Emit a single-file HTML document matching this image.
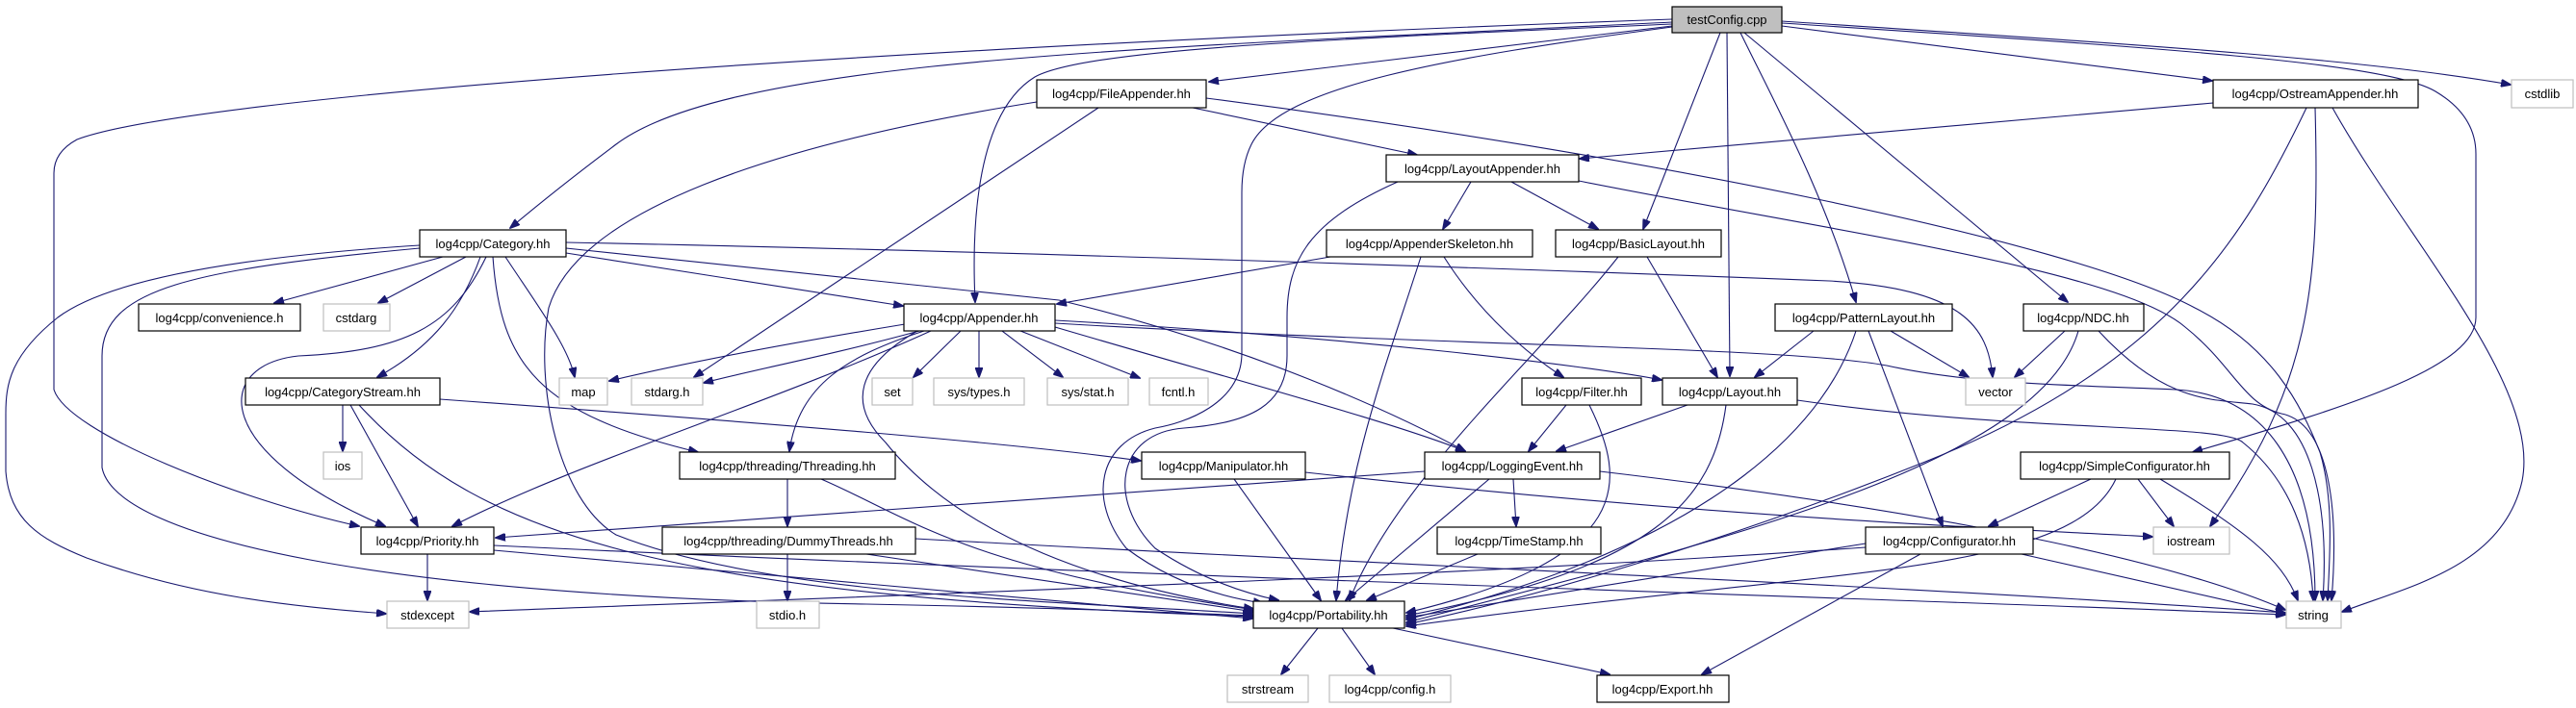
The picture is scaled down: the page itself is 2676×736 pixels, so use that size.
<!DOCTYPE html>
<html><head><meta charset="utf-8"><style>
html,body{margin:0;padding:0;background:#fff;}
svg{display:block;}
text{font-family:"Liberation Sans",sans-serif;font-size:13px;fill:#000;}
.e{fill:none;stroke:#191970;stroke-width:1.1;}
.n{fill:#fff;stroke:#000;stroke-width:1.2;}
.g{fill:#fff;stroke:#bfbfbf;stroke-width:1.2;}
</style></head><body>
<svg width="2676" height="736" viewBox="0 0 2676 736" xmlns="http://www.w3.org/2000/svg">
<defs><marker id="a" markerWidth="11" markerHeight="8" refX="10" refY="4" orient="auto" markerUnits="userSpaceOnUse"><path d="M0,0 L11,4 L0,8 z" fill="#191970" stroke="#191970"/></marker></defs>
<g class="e" marker-end="url(#a)">
<path d="M1737,23 C1200,50 760,60 640,150 Q580,195 530,237"/>
<path d="M1737,20 C900,50 200,100 80,145 Q56,158 56,180 L56,405 C70,450 250,520 373,547"/>
<path d="M1737,25 C1400,40 1130,50 1075,80 C1010,120 1010,250 1013,314"/>
<path d="M1737,27 L1256,85"/>
<path d="M1737,28 C1500,60 1330,90 1300,150 Q1290,170 1290,200 L1290,367 C1290,420 1230,440 1200,445 C1140,460 1130,520 1170,570 Q1230,615 1312,627"/>
<path d="M1787,34 L1707,238"/>
<path d="M1794,34 L1797,391"/>
<path d="M1808,34 C1840,100 1895,200 1928,314"/>
<path d="M1812,34 L2148,314"/>
<path d="M1851,27 L2298,84"/>
<path d="M1851,22 C2200,45 2450,60 2608,88"/>
<path d="M1851,24 C2250,50 2480,65 2530,95 Q2572,120 2572,160 L2572,330 C2572,380 2450,420 2278,470"/>
<path d="M1239,112 L1472,161"/>
<path d="M1253,102 C1700,160 2150,250 2280,320 C2360,360 2390,420 2410,470 C2425,520 2420,580 2418,624"/>
<path d="M1141,112 L721,392"/>
<path d="M1077,106 C800,150 600,220 570,320 C555,400 580,520 640,556 C800,620 1100,625 1301,638"/>
<path d="M1528,189 L1499,238"/>
<path d="M1570,189 L1660,238"/>
<path d="M1640,188 C1900,240 2200,280 2270,340 C2320,380 2330,420 2370,430 C2420,440 2430,530 2422,624"/>
<path d="M1452,189 C1360,230 1337,270 1337,330 L1337,370 C1337,420 1300,440 1230,445 C1160,450 1150,520 1200,570 Q1260,610 1328,624"/>
<path d="M1382,267 L1098,316"/>
<path d="M1476,267 C1440,380 1400,480 1388,624"/>
<path d="M1500,267 C1540,330 1590,370 1624,392"/>
<path d="M1711,267 L1784,392"/>
<path d="M1681,267 C1600,370 1450,500 1402,624"/>
<path d="M940,337 C800,360 700,380 633,396"/>
<path d="M955,344 C860,370 780,385 731,398"/>
<path d="M998,344 L949,392"/>
<path d="M1017,344 L1017,392"/>
<path d="M1041,344 L1104,392"/>
<path d="M1060,344 L1184,393"/>
<path d="M960,344 C880,370 830,400 820,469"/>
<path d="M967,344 C800,420 600,480 470,547"/>
<path d="M953,344 C890,380 880,420 920,460 C1000,560 1150,610 1302,633"/>
<path d="M1096,340 C1300,400 1450,440 1522,469"/>
<path d="M1096,333 C1400,350 1650,380 1726,395"/>
<path d="M1096,336 C1500,360 1850,360 1960,380 C2050,400 2150,400 2260,405 C2350,410 2405,480 2405,624"/>
<path d="M460,267 L285,315"/>
<path d="M484,267 L393,315"/>
<path d="M499,267 C480,320 450,360 392,392"/>
<path d="M525,267 C560,320 590,360 597,392"/>
<path d="M512,267 C520,380 560,430 725,470"/>
<path d="M505,267 C470,340 420,365 310,370 C220,380 220,470 400,547"/>
<path d="M436,258 C200,280 106,300 106,370 L106,486 C120,560 400,620 900,628 C1100,632 1200,636 1302,640"/>
<path d="M436,255 C200,270 100,300 60,330 C10,370 6,400 6,430 L6,490 C10,540 40,560 90,580 C200,620 300,630 401,638"/>
<path d="M588,263 L938,318"/>
<path d="M588,258 L1100,312 C1300,360 1450,430 1522,469"/>
<path d="M588,252 C1000,260 1600,280 1900,292 C2040,300 2065,340 2070,392"/>
<path d="M356,421 L356,469"/>
<path d="M364,421 L434,547"/>
<path d="M373,421 C500,560 700,620 1302,641"/>
<path d="M457,415 C800,440 1050,460 1185,479"/>
<path d="M818,498 L818,547"/>
<path d="M853,498 C950,540 1000,590 1304,634"/>
<path d="M818,576 L818,624"/>
<path d="M900,576 L1303,636"/>
<path d="M951,560 C1500,590 2000,610 2374,637"/>
<path d="M444,576 L444,624"/>
<path d="M513,572 L1301,643"/>
<path d="M513,567 C1200,600 1900,620 2374,639"/>
<path d="M1282,498 L1372,624"/>
<path d="M1356,491 C1800,540 2100,550 2236,558"/>
<path d="M1480,490 L515,559"/>
<path d="M1572,498 L1575,547"/>
<path d="M1547,498 L1398,624"/>
<path d="M1662,490 C2000,530 2250,580 2374,634"/>
<path d="M1627,421 L1588,469"/>
<path d="M1651,421 C1690,500 1700,580 1461,637"/>
<path d="M1753,421 L1617,469"/>
<path d="M1793,421 C1780,520 1720,590 1461,640"/>
<path d="M1867,416 C2100,450 2310,440 2330,460 C2380,500 2400,560 2403,624"/>
<path d="M1535,576 L1420,624"/>
<path d="M1884,344 L1823,392"/>
<path d="M1964,344 L2045,392"/>
<path d="M1928,344 C1900,430 1800,560 1461,644"/>
<path d="M1941,344 L2018,547"/>
<path d="M2145,344 L2093,392"/>
<path d="M2159,344 C2120,480 1800,560 1461,647"/>
<path d="M2180,344 C2250,420 2300,415 2340,420 C2400,430 2420,520 2413,624"/>
<path d="M2299,107 L1641,165"/>
<path d="M2396,112 C2330,250 2250,380 2000,480 C1800,560 1600,620 1461,649"/>
<path d="M2405,112 C2410,300 2400,400 2296,547"/>
<path d="M2423,112 C2500,250 2640,400 2620,500 C2600,590 2500,610 2433,636"/>
<path d="M2172,498 L2066,547"/>
<path d="M2221,498 L2258,547"/>
<path d="M2244,498 C2330,550 2370,580 2387,624"/>
<path d="M2198,498 C2150,600 1900,590 1461,651"/>
<path d="M1938,569 C1500,600 900,620 488,636"/>
<path d="M1938,565 L1461,642"/>
<path d="M2100,576 L2374,638"/>
<path d="M1995,576 L1768,701"/>
<path d="M1369,653 L1331,701"/>
<path d="M1394,653 L1428,701"/>
<path d="M1447,653 L1672,701"/>
</g>
<g>
<rect x="1737" y="7" width="114" height="27" fill="#bfbfbf" stroke="#000" stroke-width="1.2"/><text x="1794" y="25" text-anchor="middle">testConfig.cpp</text>
<rect class="n" x="436" y="239" width="152" height="28"/><text x="512" y="258" text-anchor="middle">log4cpp/Category.hh</text>
<rect class="n" x="144" y="316" width="168" height="28"/><text x="228" y="335" text-anchor="middle">log4cpp/convenience.h</text>
<rect class="g" x="336" y="316" width="69" height="28"/><text x="370" y="335" text-anchor="middle">cstdarg</text>
<rect class="n" x="1077" y="83" width="176" height="29"/><text x="1165" y="102" text-anchor="middle">log4cpp/FileAppender.hh</text>
<rect class="n" x="1440" y="161" width="200" height="28"/><text x="1540" y="180" text-anchor="middle">log4cpp/LayoutAppender.hh</text>
<rect class="n" x="1378" y="239" width="214" height="28"/><text x="1485" y="258" text-anchor="middle">log4cpp/AppenderSkeleton.hh</text>
<rect class="n" x="1616" y="239" width="172" height="28"/><text x="1702" y="258" text-anchor="middle">log4cpp/BasicLayout.hh</text>
<rect class="n" x="939" y="316" width="157" height="28"/><text x="1017" y="335" text-anchor="middle">log4cpp/Appender.hh</text>
<rect class="n" x="2299" y="83" width="213" height="29"/><text x="2405" y="102" text-anchor="middle">log4cpp/OstreamAppender.hh</text>
<rect class="g" x="2609" y="83" width="64" height="29"/><text x="2641" y="102" text-anchor="middle">cstdlib</text>
<rect class="n" x="1844" y="316" width="184" height="28"/><text x="1936" y="335" text-anchor="middle">log4cpp/PatternLayout.hh</text>
<rect class="n" x="2102" y="316" width="125" height="28"/><text x="2164" y="335" text-anchor="middle">log4cpp/NDC.hh</text>
<rect class="n" x="255" y="393" width="202" height="28"/><text x="356" y="412" text-anchor="middle">log4cpp/CategoryStream.hh</text>
<rect class="g" x="581" y="393" width="50" height="28"/><text x="606" y="412" text-anchor="middle">map</text>
<rect class="g" x="656" y="393" width="74" height="28"/><text x="693" y="412" text-anchor="middle">stdarg.h</text>
<rect class="g" x="906" y="393" width="42" height="28"/><text x="927" y="412" text-anchor="middle">set</text>
<rect class="g" x="970" y="393" width="94" height="28"/><text x="1017" y="412" text-anchor="middle">sys/types.h</text>
<rect class="g" x="1088" y="393" width="84" height="28"/><text x="1130" y="412" text-anchor="middle">sys/stat.h</text>
<rect class="g" x="1194" y="393" width="61" height="28"/><text x="1224" y="412" text-anchor="middle">fcntl.h</text>
<rect class="n" x="1581" y="393" width="124" height="28"/><text x="1643" y="412" text-anchor="middle">log4cpp/Filter.hh</text>
<rect class="n" x="1727" y="393" width="140" height="28"/><text x="1797" y="412" text-anchor="middle">log4cpp/Layout.hh</text>
<rect class="g" x="2042" y="393" width="62" height="28"/><text x="2073" y="412" text-anchor="middle">vector</text>
<rect class="g" x="336" y="470" width="40" height="28"/><text x="356" y="489" text-anchor="middle">ios</text>
<rect class="n" x="706" y="470" width="224" height="28"/><text x="818" y="489" text-anchor="middle">log4cpp/threading/Threading.hh</text>
<rect class="n" x="1186" y="470" width="170" height="28"/><text x="1271" y="489" text-anchor="middle">log4cpp/Manipulator.hh</text>
<rect class="n" x="1480" y="470" width="182" height="28"/><text x="1571" y="489" text-anchor="middle">log4cpp/LoggingEvent.hh</text>
<rect class="n" x="2099" y="470" width="217" height="28"/><text x="2207" y="489" text-anchor="middle">log4cpp/SimpleConfigurator.hh</text>
<rect class="n" x="375" y="548" width="138" height="28"/><text x="444" y="567" text-anchor="middle">log4cpp/Priority.hh</text>
<rect class="n" x="688" y="548" width="263" height="28"/><text x="819" y="567" text-anchor="middle">log4cpp/threading/DummyThreads.hh</text>
<rect class="n" x="1493" y="548" width="170" height="28"/><text x="1578" y="567" text-anchor="middle">log4cpp/TimeStamp.hh</text>
<rect class="n" x="1938" y="548" width="174" height="28"/><text x="2025" y="567" text-anchor="middle">log4cpp/Configurator.hh</text>
<rect class="g" x="2237" y="548" width="79" height="28"/><text x="2276" y="567" text-anchor="middle">iostream</text>
<rect class="g" x="402" y="625" width="85" height="28"/><text x="444" y="644" text-anchor="middle">stdexcept</text>
<rect class="g" x="786" y="625" width="65" height="28"/><text x="818" y="644" text-anchor="middle">stdio.h</text>
<rect class="n" x="1302" y="625" width="157" height="28"/><text x="1380" y="644" text-anchor="middle">log4cpp/Portability.hh</text>
<rect class="g" x="2375" y="625" width="57" height="28"/><text x="2403" y="644" text-anchor="middle">string</text>
<rect class="g" x="1275" y="702" width="84" height="28"/><text x="1317" y="721" text-anchor="middle">strstream</text>
<rect class="g" x="1381" y="702" width="126" height="28"/><text x="1444" y="721" text-anchor="middle">log4cpp/config.h</text>
<rect class="n" x="1659" y="702" width="137" height="28"/><text x="1727" y="721" text-anchor="middle">log4cpp/Export.hh</text>
</g>
</svg>
</body></html>
